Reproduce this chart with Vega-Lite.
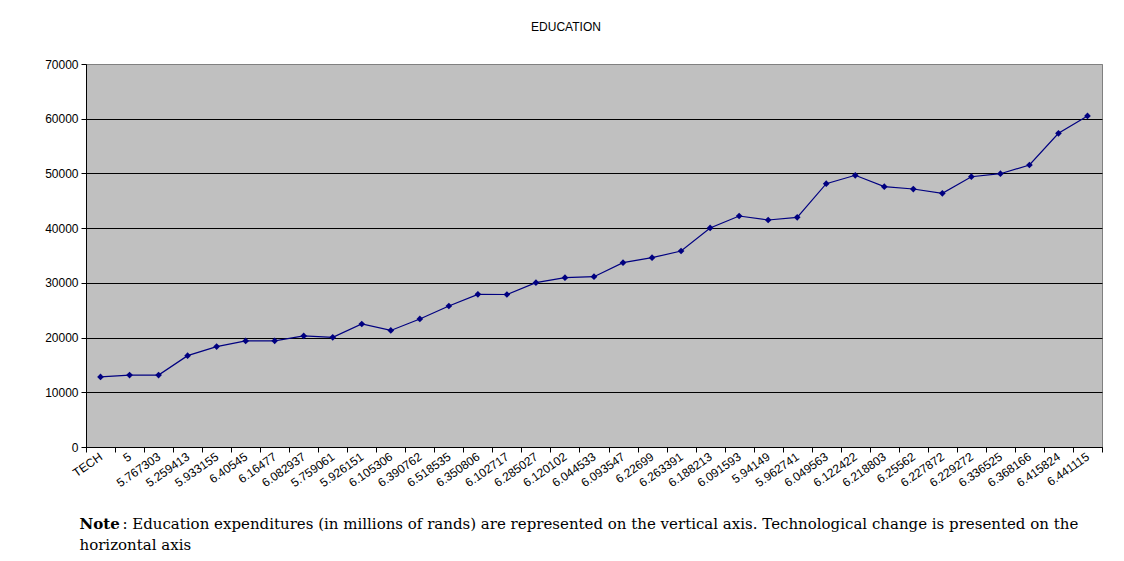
{
  "$schema": "https://vega.github.io/schema/vega-lite/v6.json",
  "width": 1016,
  "height": 383,
  "autosize": {"type": "none"},
  "padding": {"left": 86, "top": 64, "right": 22, "bottom": 114},
  "background": "white",
  "title": {"text": "EDUCATION", "frame": "group", "anchor": "middle", "dx": -28, "offset": 15, "baseline": "alphabetic", "font": "Liberation Sans", "fontSize": 12, "fontWeight": "normal", "color": "#000"},
  "config": {"view": {"fill": "#c0c0c0", "stroke": "#808080", "strokeWidth": 1}},
  "data": {"values": [
    {"tech": "TECH", "education": 12800},
    {"tech": "5", "education": 13150},
    {"tech": "5.767303", "education": 13150},
    {"tech": "5.259413", "education": 16700},
    {"tech": "5.933155", "education": 18350},
    {"tech": "6.40545", "education": 19380},
    {"tech": "6.16477", "education": 19400},
    {"tech": "6.082937", "education": 20300},
    {"tech": "5.759061", "education": 20050},
    {"tech": "5.926151", "education": 22480},
    {"tech": "6.105306", "education": 21300},
    {"tech": "6.390762", "education": 23400},
    {"tech": "6.518535", "education": 25770},
    {"tech": "6.350806", "education": 27900},
    {"tech": "6.102717", "education": 27870},
    {"tech": "6.285027", "education": 30030},
    {"tech": "6.120102", "education": 30950},
    {"tech": "6.044533", "education": 31130},
    {"tech": "6.093547", "education": 33690},
    {"tech": "6.22699", "education": 34600},
    {"tech": "6.263391", "education": 35820},
    {"tech": "6.188213", "education": 40030},
    {"tech": "6.091593", "education": 42220},
    {"tech": "5.94149", "education": 41490},
    {"tech": "5.962741", "education": 41980},
    {"tech": "6.049563", "education": 48130},
    {"tech": "6.122422", "education": 49660},
    {"tech": "6.218803", "education": 47580},
    {"tech": "6.25562", "education": 47150},
    {"tech": "6.227872", "education": 46370},
    {"tech": "6.229272", "education": 49400},
    {"tech": "6.336525", "education": 49950},
    {"tech": "6.368166", "education": 51540},
    {"tech": "6.415824", "education": 57330},
    {"tech": "6.441115", "education": 60500}
  ]},
  "encoding": {
    "x": {
      "field": "tech", "type": "ordinal", "sort": null,
      "scale": {"type": "band", "paddingInner": 0, "paddingOuter": 0},
      "axis": {
        "title": ["\u200b\u00a0\u00a0\u00a0\u00a0\u00a0\u00a0\u00a0\u00a0\u00a0: Education expenditures (in millions of rands) are represented on the vertical axis. Technological change is presented on the", "horizontal axis"],
        "titleX": -7, "titleY": 81, "titleAnchor": null, "titleAlign": "left", "titleBaseline": "alphabetic",
        "titleFont": "DejaVu Serif", "titleFontSize": 15, "titleFontWeight": "normal", "titleColor": "#000", "titleLineHeight": 21,
        "tickBand": "extent", "labelAngle": -35, "labelAlign": "right", "labelBaseline": "middle",
        "labelFont": "Liberation Sans", "labelFontSize": 12, "labelColor": "#000", "labelPadding": 3, "labelOverlap": false,
        "tickColor": "#000", "tickSize": 5, "domainColor": "#000", "grid": false
      }
    },
    "y": {
      "field": "education", "type": "quantitative",
      "scale": {"domain": [0, 70000], "nice": false},
      "axis": {
        "values": [0, 10000, 20000, 30000, 40000, 50000, 60000, 70000], "format": "d",
        "title": "Note", "titleAngle": 0, "titleX": -7, "titleY": 464, "titleAnchor": null, "titleAlign": "left", "titleBaseline": "alphabetic",
        "titleFont": "DejaVu Serif", "titleFontSize": 15, "titleFontWeight": "bold", "titleColor": "#000",
        "labelFont": "Liberation Sans", "labelFontSize": 12, "labelColor": "#000", "labelPadding": 3,
        "tickColor": "#000", "tickSize": 5, "domainColor": "#000",
        "gridColor": {"condition": {"test": "datum.value === 70000", "value": "#808080"}, "value": "#000"}, "gridOpacity": 1
      }
    }
  },
  "layer": [
    {"mark": {"type": "line", "color": "#000080", "strokeWidth": 1.2}},
    {"mark": {"type": "point", "shape": "diamond", "filled": true, "color": "#000080", "size": 45, "opacity": 1}}
  ]
}
